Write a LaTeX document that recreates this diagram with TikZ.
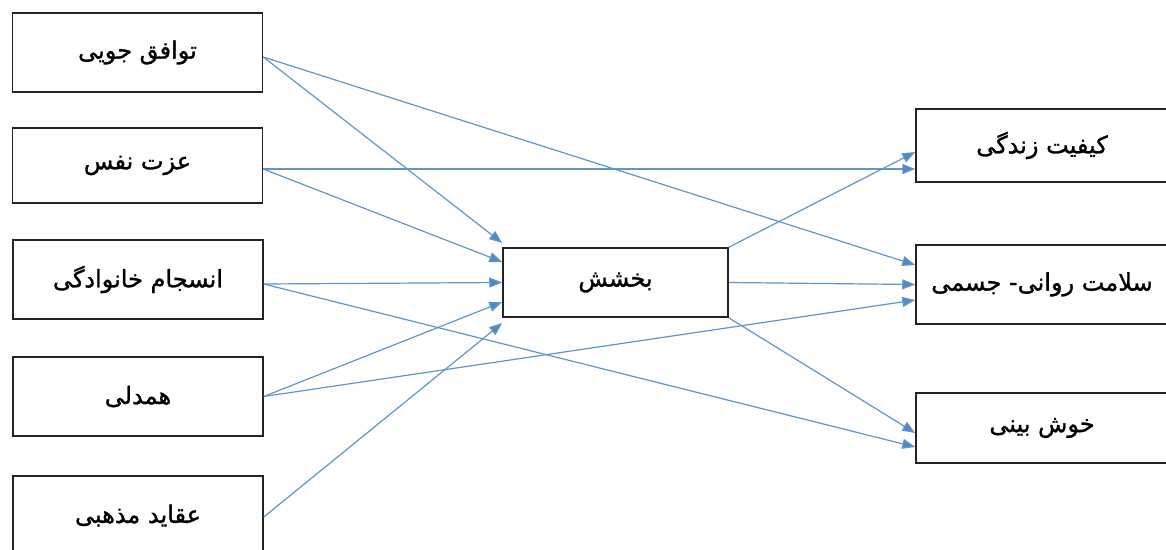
\documentclass[tikz,border=0pt]{standalone}
\usepackage{fontspec}
\newfontfamily\arabicfont[Script=Arabic,FakeBold=1.2]{DejaVu Sans}
\TeXXeTstate=1
\usetikzlibrary{arrows.meta}
\definecolor{arrowblue}{RGB}{98,150,198}
\definecolor{headblue}{RGB}{78,138,200}
\definecolor{boxline}{RGB}{35,35,35}
\tikzset{
  box/.style={draw=boxline, line width=1.5pt, fill=white, inner sep=0pt,
    font=\arabicfont\fontsize{24}{28}\selectfont},
  leftbox/.style={box, minimum width=250pt, minimum height=79pt},
  rightbox/.style={box, minimum width=252pt},
  conn/.style={draw=arrowblue, line width=1.2pt,
    -{Triangle[length=13pt,width=10pt,fill=headblue]}},
}
\begin{document}
\begin{tikzpicture}[x=1pt,y=-1pt]
\clip (0,0) rectangle (1166,549);
\fill[white] (0,0) rectangle (1166,549);
% left column
\node[leftbox] (l1) at (137.5,52.5) {\beginR توافق جویی\endR};
\node[leftbox, minimum height=75pt] (l2) at (137.5,165.5) {\beginR عزت نفس\endR};
\node[leftbox] (l3) at (138,279.5) {\beginR انسجام خانوادگی\endR};
\node[leftbox] (l4) at (138,396.5) {\beginR همدلی\endR};
\node[leftbox] (l5) at (138,515.5) {\beginR عقاید مذهبی\endR};
% centre
\node[box, minimum width=225pt, minimum height=69pt] (c) at (615.5,282.5) {\beginR بخشش\endR};
% right column
\node[rightbox, minimum height=73pt] (r1) at (1042,145.5) {\beginR کیفیت زندگی\endR};
\node[rightbox, minimum height=79pt] (r2) at (1042,284.5) {\raisebox{6pt}{\beginR سلامت روانی- جسمی\endR}};
\node[rightbox, minimum height=70pt] (r3) at (1042,428) {\beginR خوش بینی\endR};
% connectors into centre
\draw[conn] ([yshift=-4.5pt]l1.east) -- ([yshift=39.5pt]c.west);
\draw[conn] ([yshift=-3.5pt]l2.east) -- ([yshift=20.5pt]c.west);
\draw[conn] ([yshift=-4.5pt]l3.east) -- (c.west);
\draw[conn] (l4.east) -- ([yshift=-19.5pt]c.west);
\draw[conn] ([yshift=-1.5pt]l5.east) -- ([yshift=-40.5pt]c.west);
% direct connectors
\draw[conn] ([yshift=-4.5pt]l1.east) -- ([yshift=19.5pt]r2.west);
\draw[conn] ([yshift=-3.5pt]l2.east) -- ([yshift=-23.5pt]r1.west);
\draw[conn] ([yshift=-4.5pt]l3.east) -- ([yshift=-19pt]r3.west);
\draw[conn] (l4.east) -- ([yshift=-15.5pt]r2.west);
% from centre
\draw[conn] (c.north east) -- ([yshift=-6.5pt]r1.west);
\draw[conn] (c.east) -- (r2.west);
\draw[conn] (c.south east) -- ([yshift=-5pt]r3.west);
\end{tikzpicture}
\end{document}
